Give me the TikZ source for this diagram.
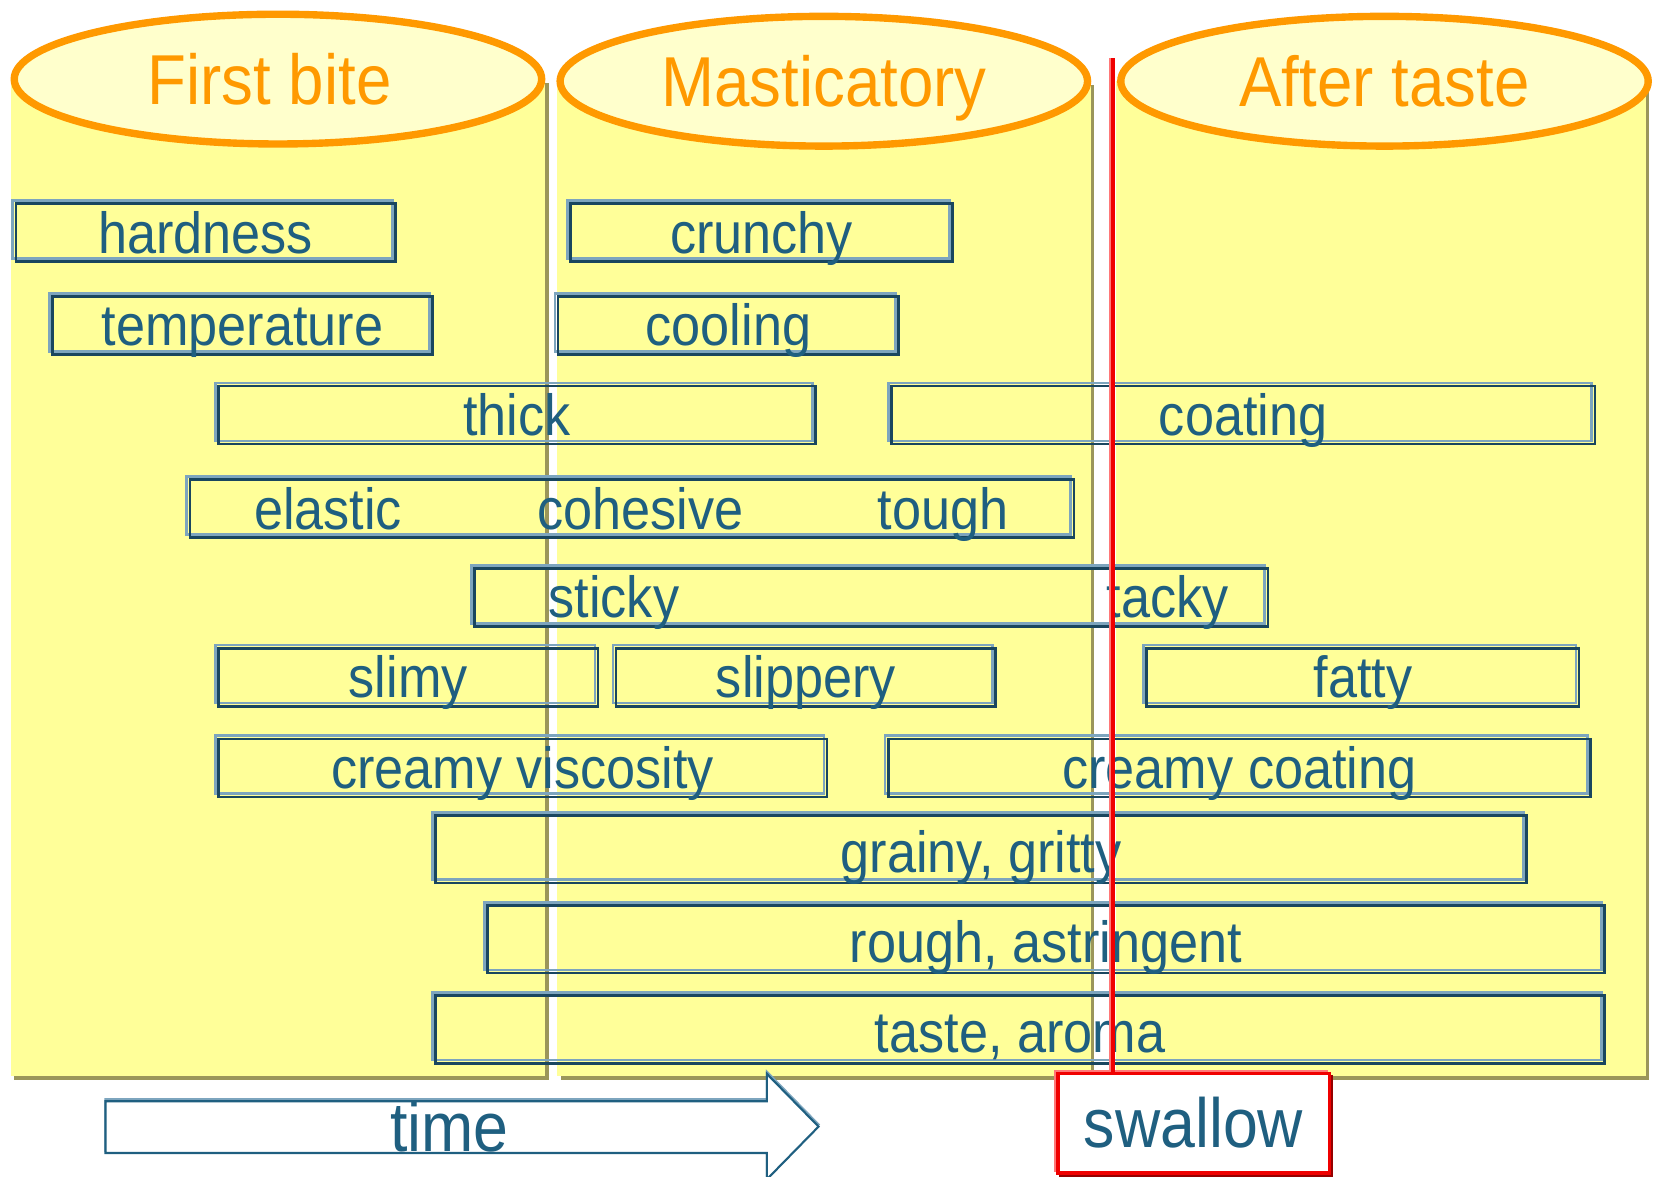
\documentclass[tikz,border=0pt]{standalone}
\usepackage{fontspec}
\setmainfont[FakeStretch=0.9]{Liberation Sans}
\usetikzlibrary{shapes.geometric}

\definecolor{colyellow}{RGB}{255,255,153}
\definecolor{headfill}{RGB}{255,255,204}
\definecolor{headline}{RGB}{255,153,0}
\definecolor{colshadow}{RGB}{155,150,90}
\definecolor{boxdark}{RGB}{25,70,95}
\definecolor{boxlight}{RGB}{125,165,190}
\definecolor{textblue}{RGB}{31,95,128}
\definecolor{swred}{RGB}{240,0,0}
\definecolor{swpink}{RGB}{255,120,120}
\definecolor{swdark}{RGB}{150,0,0}

\tikzset{
  column/.style={
    fill=colyellow,
    preaction={fill=colshadow, transform canvas={shift={(3.5pt,-3.5pt)}}}
  },
  head/.style={
    ellipse,
    draw=headline,
    line width=7pt,
    fill=headfill,
    text=headline,
    font=\fontsize{67}{72}\selectfont,
    inner sep=0pt,
    text height=48pt,
    text depth=0pt,
    minimum width=500pt,
    minimum height=123pt
  },
  tbox/.style={
    draw=boxdark,
    line width=2.5pt,
    inner sep=0pt,
    text=textblue,
    font=\fontsize{55}{60}\selectfont,
    text height=47pt,
    text depth=8pt,
    preaction={draw=boxlight, line width=2.5pt, transform canvas={shift={(-3pt,3pt)}}}
  },
  tallbox/.style={
    tbox,
    text height=54pt,
    text depth=10pt
  },
  word/.style={
    text=textblue,
    font=\fontsize{55}{60}\selectfont,
    inner sep=0pt,
    anchor=base
  },
  tarrow/.style={
    draw=textblue,
    line width=2pt,
    fill=white,
    preaction={draw=boxlight, line width=2pt, transform canvas={shift={(0pt,2pt)}}}
  },
  swbox/.style={
    draw=swred,
    line width=3pt,
    fill=white,
    inner sep=0pt,
    text=textblue,
    font=\fontsize{66}{70}\selectfont,
    text height=70pt,
    text depth=24pt,
    minimum width=257pt,
    preaction={draw=swpink, line width=3pt, transform canvas={shift={(-2.5pt,2.5pt)}}},
    preaction={draw=swdark, line width=3pt, transform canvas={shift={(2.5pt,-2.5pt)}}}
  },
  redline/.style={
    draw=swred,
    line width=4pt,
    preaction={draw=swpink, line width=3pt, transform canvas={shift={(-2.5pt,0pt)}}}
  }
}

\begin{document}
\begin{tikzpicture}[x=1pt, y=-1pt]
  \useasboundingbox (0,0) rectangle (1568,1115);

  \fill[column] (10,75) rectangle (517,1020);
  \fill[column] (528,77) rectangle (1034,1020);
  \fill[column] (1058,77) rectangle (1560,1020);

  \node[head] (firstbite) at (263.5,75) {First bite\hspace*{16pt}};
  \node[head] (masticatory) at (781,77) {Masticatory};
  \node[head] (aftertaste) at (1312.5,77) {After taste};

  \node[tbox, minimum width=360pt] (hardness) at (195,220.5) {hardness};
  \node[tbox, minimum width=362pt] (crunchy) at (722,220.5) {crunchy};

  \node[tbox, minimum width=360pt] (temperature) at (230,308.5) {temperature};
  \node[tbox, minimum width=323pt] (cooling) at (690.5,308.5) {cooling};

  \node[tbox, minimum width=566pt] (thick) at (490,393.5) {thick};
  \node[tbox, minimum width=667pt] (coating) at (1178.5,393.5) {coating};

  \node[tbox, minimum width=838pt] (elasticbox) at (599,482) {};
  \node[word] (elastic) at (311,502) {elastic};
  \node[word] (cohesive) at (607,502) {cohesive};
  \node[word] (tough) at (894,502) {tough};

  \node[tbox, minimum width=752pt] (stickybox) at (826,566.5) {};
  \node[word] (sticky) at (582,585) {sticky};
  \node[word] (tacky) at (1107,585) {tacky};

  \node[tbox, minimum width=360pt] (slimy) at (387,642) {slimy};
  \node[tbox, minimum width=360pt] (slippery) at (764,642) {slippery};
  \node[tbox, minimum width=410pt] (fatty) at (1292,642) {fatty};

  \node[tbox, minimum width=577pt] (creamyvisc) at (495.5,728) {creamy viscosity};
  \node[tbox, minimum width=666pt] (creamycoat) at (1175,728) {creamy coating};

  \node[tallbox, minimum width=1034pt] (grainy) at (930,805) {grainy, gritty};
  \node[tallbox, minimum width=1059pt] (rough) at (991.5,890.5) {rough, astringent};
  \node[tallbox, minimum width=1108pt] (taste) at (967,976) {taste, aroma};

  \draw[tarrow] (100,1044) -- (727,1044) -- (727,1018) -- (776,1068) -- (727,1118) -- (727,1093) -- (100,1093) -- cycle;
  \node[word, font=\fontsize{66}{70}\selectfont] (time) at (426,1092) {time};

  \node[swbox] (swallow) at (1131.5,1065) {swallow};

  \coordinate (redtop) at (1055,55);
  \draw[redline] (redtop) -- (redtop |- swallow.north);
\end{tikzpicture}
\end{document}
